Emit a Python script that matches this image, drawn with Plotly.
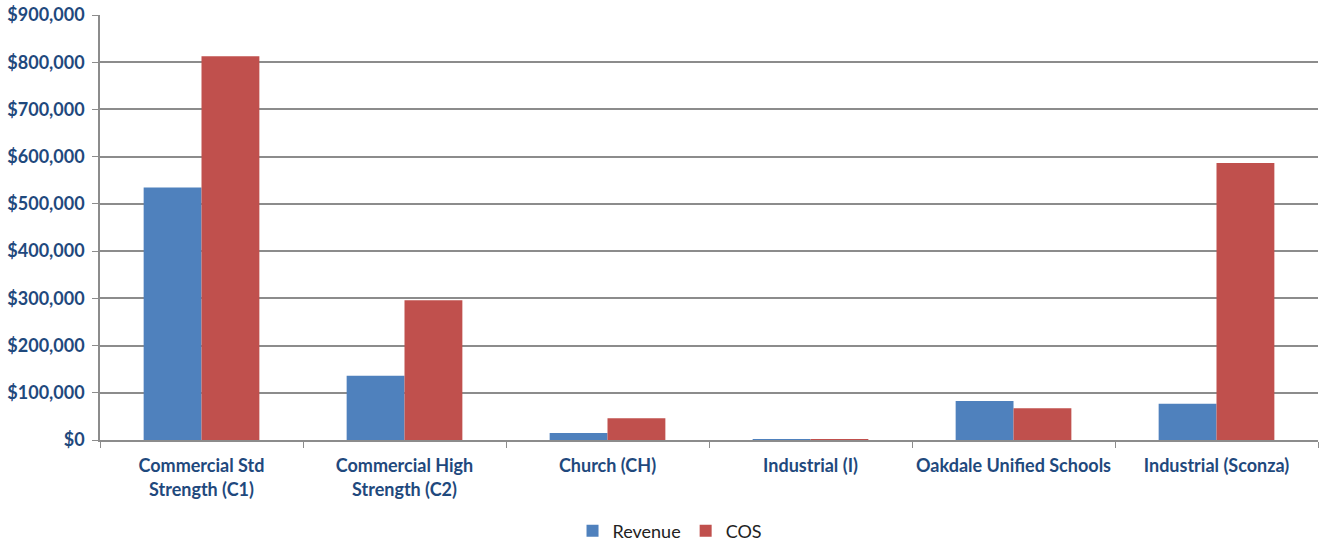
import plotly.graph_objects as go

categories = [
    "Commercial Std<br>Strength (C1)",
    "Commercial High<br>Strength (C2)",
    "Church (CH)",
    "Industrial (I)",
    "Oakdale Unified Schools",
    "Industrial (Sconza)",
]
revenue = [534500, 136000, 14800, 1500, 82500, 76800]
cos = [812800, 296100, 45900, 1200, 67000, 586500]
y_ticks = list(range(0, 900001, 100000))
y_tick_labels = [f"${v:,.0f}" for v in y_ticks]

label_color = "#1F497D"
grid_color = "#8C8C8C"
tick_font = dict(size=18, color=label_color, family="Lato, sans-serif", weight="bold")

fig = go.Figure()
fig.add_trace(go.Bar(name="Revenue", x=categories, y=revenue,
                     marker=dict(color="#4F81BD", line=dict(width=0))))
fig.add_trace(go.Bar(name="COS", x=categories, y=cos,
                     marker=dict(color="#C0504D", line=dict(width=0))))

fig.update_layout(
    width=1320, height=541,
    margin=dict(l=100, r=2, t=15, b=101),
    paper_bgcolor="white", plot_bgcolor="white",
    barmode="group", bargap=0.43, bargroupgap=0,
    font=dict(family="Lato, 'Open Sans', sans-serif"),
    legend=dict(orientation="h", x=0.468, xanchor="center",
                yref="container", y=0.0185, yanchor="middle",
                font=dict(size=18, color="#222222"),
                traceorder="normal"),
    xaxis=dict(
        showline=True, linecolor=grid_color, linewidth=1.5,
        ticks="outside", tickson="boundaries", ticklen=6, tickcolor=grid_color,
        tickfont=tick_font, ticklabelstandoff=9, tickangle=0,
        showgrid=False, automargin=False,
    ),
    yaxis=dict(
        range=[0, 900000],
        tickvals=y_ticks, ticktext=y_tick_labels,
        showline=True, linecolor=grid_color, linewidth=1.5,
        ticks="outside", ticklen=6, tickcolor=grid_color,
        showgrid=True, gridcolor=grid_color, gridwidth=1.5,
        zeroline=False, automargin=False,
        tickfont=tick_font, ticklabelstandoff=4,
    ),
)

fig.write_html("out.html")
